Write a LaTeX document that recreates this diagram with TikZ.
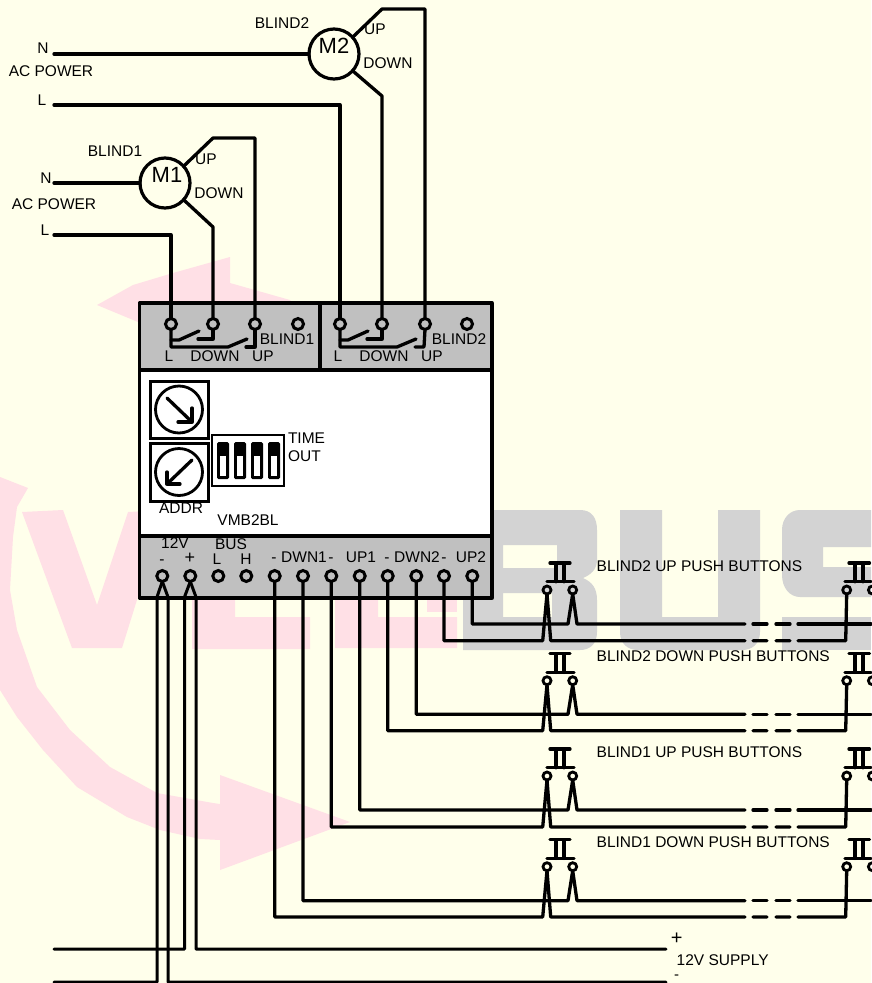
\documentclass[tikz,border=0pt]{standalone}
\usepackage{fontspec}
\setmainfont{Liberation Sans}
\definecolor{bgc}{HTML}{FFFFEB}
\definecolor{wmpink}{HTML}{FFE0E6}
\definecolor{wmgrey}{HTML}{D3D3D3}
\definecolor{modgrey}{HTML}{C0C0C0}
\tikzset{
  wire/.style={line width=3.3pt,line cap=round,line join=round},
  hair/.style={line width=3pt,line cap=round,line join=round},
  term/.style={circle,draw,line width=3pt,minimum size=11pt,inner sep=0pt,outer sep=0pt},
  btn/.style={circle,draw,line width=2.8pt,minimum size=8pt,inner sep=0pt,outer sep=0pt},
  motor/.style={circle,draw,line width=3.2pt,minimum size=50pt,inner sep=0pt,outer sep=0pt},
  dial/.style={circle,draw,line width=2.8pt,minimum size=47pt,inner sep=0pt,outer sep=0pt},
  lbl/.style={inner sep=0pt,outer sep=0pt,font=\fontsize{15.5}{15.5}\selectfont,text height=11pt,text depth=0pt},
  lblL/.style={lbl,anchor=west},
  big/.style={lbl,font=\fontsize{22}{22}\selectfont,text height=15.7pt},
  plus/.style={lbl,font=\fontsize{18}{18}\selectfont,text height=10pt},
  minus/.style={lbl,text height=9pt}
}
\begin{document}
\begin{tikzpicture}[x=1pt,y=-1pt]
\useasboundingbox (0,0) rectangle (871,983);
\fill[bgc] (0,0) rectangle (871,983);
% watermark: pink swoosh
\fill[wmpink] (97,305)--(133,285)--(173,273)--(230,257)--(230,283)--(290,300)--(300,310)--(138,322)--cycle;
\fill[wmpink] (0,477)--(28,488)--(17,507)--(13,537)--(10,590)--(17,630)--(37,687)--(70,730)--(110,767)--(157,793)--(213,803)--(220,804)--(220,775)--(350,822)--(220,870)--(220,840)--(200,839)--(160,830)--(127,817)--(77,787)--(43,750)--(17,717)--(0,690)--cycle;
% V
\fill[wmpink] (22,512)--(63,510)--(97,605)--(128,512)--(165,510)--(122,648)--(72,648)--cycle;
% E and L
\fill[wmpink] (192,590)--(235,590)--(235,617)--(310,617)--(310,649)--(192,649)--cycle;
\fill[wmpink] (335,590)--(378,590)--(378,617)--(457,617)--(457,648)--(335,648)--cycle;
\fill[wmpink] (427,590) rectangle (457,612);
% watermark: grey BUS
\fill[wmgrey,even odd rule] (463,510)--(580,510)..controls (592,510) and (597,518) .. (597,530)--(597,560)..controls (597,570) and (590,575) .. (583,578)..controls (592,582) and (597,588) .. (597,600)--(597,632)..controls (597,644) and (590,650) .. (580,650)--(463,650)--cycle
  (503,545) rectangle (557,568) (503,593) rectangle (552,617);
\fill[wmgrey] (620,510)--(662,510)--(662,617)--(718,617)--(718,510)--(760,510)--(760,632)..controls (760,644) and (752,650) .. (742,650)--(638,650)..controls (628,650) and (620,644) .. (620,632)--cycle;
\fill[wmgrey] (871,510)--(800,510)..controls (790,510) and (782,518) .. (782,530)--(782,575)..controls (782,588) and (790,597) .. (800,597)--(871,597)--(871,567)--(823,567)--(823,547)--(871,547)--cycle;
\fill[wmgrey] (782,617) rectangle (871,650);
% module
\draw[wire,fill=modgrey] (139.5,303) rectangle (492,370);
\draw[wire,fill=white] (139.5,370) rectangle (492,536);
\draw[wire,fill=modgrey] (139.5,536) rectangle (492,598);
\coordinate (divtop) at (320,303);
\coordinate (divbot) at (320,370);
\draw[wire] (divtop) -- (divbot);
% relay terminals
\foreach \n/\x in {ra/171,rb/213,rc/255,rd/298,re/340,rf/382,rg/425,rh/467}
  \node[term] (\n) at (\x,324) {};
% relay contacts
\foreach \a/\b/\c/\o in {ra/rb/rc/0,re/rf/rg/169}{
  \begin{scope}[xshift=\o pt]
    \coordinate (\a j1) at (171,347);
    \coordinate (\a k1) at (228,347);
    \coordinate (\a k2) at (247,339);
    \coordinate (\a m1) at (179,340);
    \coordinate (\a m2) at (199,331);
    \coordinate (\b c1) at (198,339);
    \coordinate (\b c2) at (213,339);
    \coordinate (\c c1) at (246,347);
    \coordinate (\c c2) at (255,347);
  \end{scope}
  \draw[wire] (\a.south) -- (\a j1) -- (\a k1) -- (\a k2);
  \draw[wire] (171+\o,340) -- (\a m1) -- (\a m2);
  \draw[wire] (\b c1) -- (\b c2) -- (\b.south);
  \draw[wire] (\c c1) -- (\c c2) -- (\c.south);
}
% motors
\node[motor] (m1) at (165,183) {};
\node[motor] (m2) at (334,54) {};
\coordinate (n1) at (54,183); \coordinate (l1) at (54,235);
\coordinate (n2) at (54,54); \coordinate (l2) at (54,105);
\draw[wire] (n1) -- (m1.west);
\draw[wire] (n2) -- (m2.west);
\draw[wire] (l1) -- (ra.north |- l1) -- (ra.north);
\draw[wire] (l2) -- (re.north |- l2) -- (re.north);
\coordinate (m1u) at (213,138); \coordinate (m1d) at (213,227);
\coordinate (m2u) at (382,9); \coordinate (m2d) at (382,96);
\draw[wire] (m1.42) -- (m1u) -- (rc.north |- m1u) -- (rc.north);
\draw[wire] (m1.-42) -- (m1d) -- (rb.north);
\draw[wire] (m2.42) -- (m2u) -- (rg.north |- m2u) -- (rg.north);
\draw[wire] (m2.-42) -- (m2d) -- (rf.north);
% address switches
\node[draw,line width=3pt,minimum width=58pt,minimum height=57pt,inner sep=0pt,outer sep=0pt] (box1) at (179,409.5) {};
\node[draw,line width=3pt,minimum width=58pt,minimum height=58pt,inner sep=0pt,outer sep=0pt] (box2) at (179,472) {};
\node[dial] (d1) at (box1.center) {};
\node[dial] (d2) at (box2.center) {};
\coordinate (a1s) at (167,398); \coordinate (a1e) at (192,422);
\coordinate (a2s) at (192,460); \coordinate (a2e) at (167,484);
\draw[wire] (a1s) -- (a1e);
\draw[wire] (192,408) -- (a1e) -- (178,422);
\draw[wire] (a2s) -- (a2e);
\draw[wire] (167,472) -- (a2e) -- (180,484);
% DIP switch
\node[draw,line width=2.8pt,minimum width=72pt,minimum height=51pt,inner sep=0pt,outer sep=0pt] (dip) at (248,460.5) {};
\foreach \x in {217,234,251,268}{
  \fill[rounded corners=1.5pt] (\x,442) rectangle (\x+12,479);
  \fill[white] (\x+3.2,456) rectangle (\x+9.2,476);
}
% bottom terminals
\foreach \n/\x in {b1/162.3,b2/190.3,b3/218.3,b4/246.3,b5/274.7,b6/303,b7/331.3,b8/359.7,b9/387.7,b10/416.3,b11/444,b12/472.3}
  \node[term] (\n) at (\x,576) {};
% 12V wires
\coordinate (p1) at (54,949); \coordinate (p2) at (666,949);
\coordinate (q1) at (54,982); \coordinate (q2) at (666,982);
\draw[hair] (b1.south) -- (157,597) -- (157,982) -- (q1);
\draw[hair] (b1.south) -- (168,597) -- (168,982) -- (q2);
\draw[hair] (b2.south) -- (184.5,597) -- (184.5,949) -- (p1);
\draw[hair] (b2.south) -- (196,597) -- (196,949) -- (p2);
% push-button rows
\foreach \r/\ta/\tb/\yc/\yu/\yl in {
  A/b12/b11/590/624/640.7,
  B/b10/b9/680.7/714.3/730.7,
  C/b8/b7/776/810/827,
  D/b6/b5/866.7/900.7/917}{
  \node[btn] (\r a) at (547,\yc) {};
  \node[btn] (\r b) at (572.7,\yc) {};
  \node[btn] (\r c) at (846.7,\yc) {};
  \node[btn] (\r d) at (872.4,\yc) {};
  \draw[wire] (547,\yc-8.3) -- (574,\yc-8.3);
  \draw[wire] (556,\yc-8.3) -- (556,\yc-27) (564,\yc-8.3) -- (564,\yc-27);
  \draw[wire] (550,\yc-27) -- (570,\yc-27);
  \draw[wire] (845,\yc-8.3) -- (871,\yc-8.3);
  \draw[wire] (855,\yc-8.3) -- (855,\yc-27) (863,\yc-8.3) -- (863,\yc-27);
  \draw[wire] (849,\yc-27) -- (869.5,\yc-27);
  \draw[wire] (\ta.south) -- (\ta.south |- 0,\yu) -- (568,\yu) -- (\r b.south) -- (577,\yu) -- (745,\yu);
  \draw[wire] (\tb.south) -- (\tb.south |- 0,\yl) -- (542.7,\yl) -- (\r a.south) -- (550.7,\yl) -- (745,\yl);
  \draw[wire] (753,\yu) -- (767,\yu) (776,\yu) -- (790,\yu) (798,\yu) -- (871,\yu);
  \draw[wire] (753,\yl) -- (767,\yl) (776,\yl) -- (790,\yl) (798,\yl) -- (845.7,\yl) -- (\r c.south);
}
% labels
\node[lbl] (t1) at (43,48) {N};
\node[lbl] (t2) at (51,71) {AC POWER};
\node[lbl] (t3) at (42,99.5) {L};
\node[lbl] (t4) at (282,23) {BLIND2};
\node[big] (t5) at (334,46) {M2};
\node[lbl] (t6) at (375,29) {UP};
\node[lbl] (t7) at (388,63) {DOWN};
\node[lbl] (t8) at (115,151) {BLIND1};
\node[big] (t9) at (167,175) {M1};
\node[lbl] (t10) at (206,159) {UP};
\node[lbl] (t11) at (219,193) {DOWN};
\node[lbl] (t12) at (46,178) {N};
\node[lbl] (t13) at (54,204) {AC POWER};
\node[lbl] (t14) at (45,230) {L};
\node[lbl] (t15) at (169,356) {L};
\node[lbl] (t16) at (215,356) {DOWN};
\node[lbl] (t17) at (263,356) {UP};
\node[lbl] (t18) at (287,339) {BLIND1};
\node[lbl] (t19) at (338,356) {L};
\node[lbl] (t20) at (384,356) {DOWN};
\node[lbl] (t21) at (432,356) {UP};
\node[lbl] (t22) at (459,339) {BLIND2};
\node[lblL] (t23) at (288,438) {TIME};
\node[lblL] (t24) at (288,456) {OUT};
\node[lbl] (t25) at (181,508) {ADDR};
\node[lbl] (t26) at (248,520) {VMB2BL};
\node[lbl] (t27) at (175,543) {12V};
\node[lbl] (t28) at (231,544) {BUS};
\node[minus] (t29) at (162,559.5) {-};
\node[plus] (t30) at (190,558) {+};
\node[lbl] (t31) at (217,559) {L};
\node[lbl] (t32) at (246,559) {H};
\node[minus] (t33) at (274,558) {-};
\node[lbl] (t34) at (304,557) {DWN1};
\node[minus] (t35) at (331,558) {-};
\node[lbl] (t36) at (361,557) {UP1};
\node[minus] (t37) at (387,558) {-};
\node[lbl] (t38) at (417,557) {DWN2};
\node[minus] (t39) at (444,558) {-};
\node[lbl] (t40) at (471,557) {UP2};
\node[lblL] (t41) at (596.7,565.7) {BLIND2 UP PUSH BUTTONS};
\node[lblL] (t42) at (596.7,655.7) {BLIND2 DOWN PUSH BUTTONS};
\node[lblL] (t43) at (596.7,751.7) {BLIND1 UP PUSH BUTTONS};
\node[lblL] (t44) at (596.7,841.7) {BLIND1 DOWN PUSH BUTTONS};
\node[plus,font=\fontsize{20}{20}\selectfont] (t45) at (676.7,939) {+};
\node[lblL] (t46) at (676.7,959.5) {12V SUPPLY};
\node[minus,font=\fontsize{15}{15}\selectfont,text height=7pt] (t47) at (676.7,976) {-};
\end{tikzpicture}
\end{document}
